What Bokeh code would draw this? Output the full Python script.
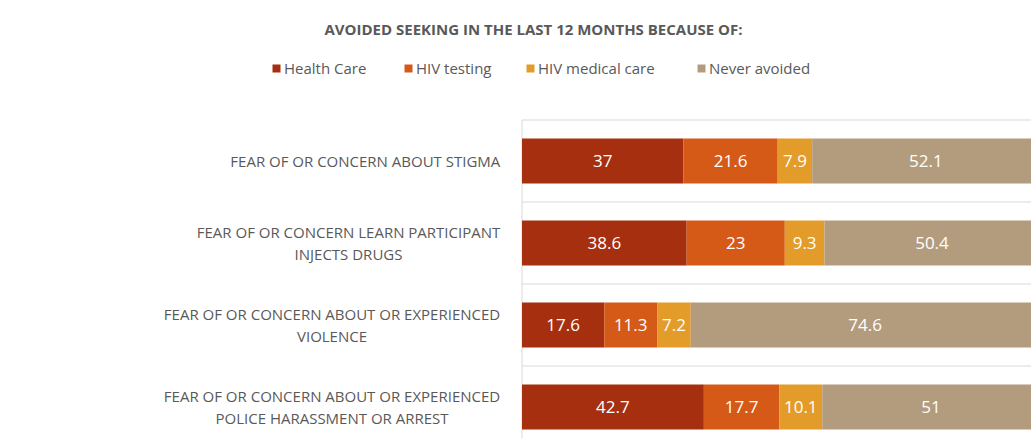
from bokeh.plotting import figure
from bokeh.models import ColumnDataSource, Label, Legend, LegendItem
from bokeh.core.properties import value
from bokeh.embed import file_html
from bokeh.resources import INLINE

categories = [
    "FEAR OF OR CONCERN ABOUT STIGMA",
    "FEAR OF OR CONCERN LEARN PARTICIPANT\nINJECTS DRUGS",
    "FEAR OF OR CONCERN ABOUT OR EXPERIENCED\nVIOLENCE",
    "FEAR OF OR CONCERN ABOUT OR EXPERIENCED\nPOLICE HARASSMENT OR ARREST",
]
health_care = [37, 38.6, 17.6, 42.7]
hiv_testing = [21.6, 23, 11.3, 17.7]
hiv_medical_care = [7.9, 9.3, 7.2, 10.1]
never_avoided = [52.1, 50.4, 74.6, 51]

series_names = ["Health Care", "HIV testing", "HIV medical care", "Never avoided"]
series_values = [health_care, hiv_testing, hiv_medical_care, never_avoided]
colors = ["#A62F0F", "#D65A17", "#E39B29", "#B39C7E"]
title_text = "AVOIDED SEEKING IN THE LAST 12 MONTHS BECAUSE OF:"

FONT = "Open Sans"
GREY = "#595959"
GRID = "#D9D9D9"
W, H = 1031, 438

# approximate Open Sans advance widths (units per em = 2048) for centring label lines
ADV = {" ": 532, "A": 1296, "B": 1327, "C": 1292, "D": 1493, "E": 1139, "F": 1057,
       "G": 1491, "H": 1511, "I": 571, "J": 547, "K": 1257, "L": 1083, "M": 1849,
       "N": 1544, "O": 1595, "P": 1233, "Q": 1595, "R": 1266, "S": 1124, "T": 1135,
       "U": 1493, "V": 1219, "W": 1896, "X": 1208, "Y": 1145, "Z": 1174}


def text_width(s, size):
    return sum(ADV.get(ch, 1200) for ch in s) / 2048 * size


ys = list(range(len(categories)))
totals = [sum(v[i] for v in series_values) for i in ys]
keys = ["s0", "s1", "s2", "s3"]
data = {"y": ys}
for k, vals in zip(keys, series_values):
    data[k] = [v / t * 100 for v, t in zip(vals, totals)]
source = ColumnDataSource(data)

# layout: plot area starts at x=521.5 px, 5.175 px per percent; rows 82 px apart, first centred at 160.5 px
PX_X, X0 = 5.175, 521.5
PX_Y, Y0 = 82.0, 160.5
x_range = (-X0 / PX_X, (W - X0) / PX_X)
y_range = ((H - Y0) / PX_Y, -Y0 / PX_Y)

p = figure(width=W, height=H, output_backend="svg", toolbar_location=None,
           x_range=x_range, y_range=y_range,
           min_border=0, min_border_left=0, min_border_right=0,
           min_border_top=0, min_border_bottom=0)
p.outline_line_color = None
p.axis.visible = False
p.grid.visible = False

# grid lines between categories and the vertical axis line
bounds = [y - 0.5 for y in ys] + [ys[-1] + 0.5]
p.segment(x0=[0] * len(bounds), x1=[200] * len(bounds), y0=bounds, y1=bounds,
          line_color=GRID, line_width=1)
p.segment(x0=[0], x1=[0], y0=[bounds[0]], y1=[ys[-1] + 2], line_color=GRID, line_width=1)

renderers = p.hbar_stack(keys, y="y", height=0.55, source=source, color=colors, line_width=0)

# value labels
lx, ly, lt = [], [], []
for i in ys:
    left = 0.0
    for k, vals in zip(keys, series_values):
        w = data[k][i]
        lx.append(left + w / 2)
        ly.append(i)
        lt.append(f"{vals[i]:g}")
        left += w
p.text(x=lx, y=ly, text=lt, text_align="center", text_baseline="middle",
       text_color="white", text_font=value(FONT), text_font_size="17px")

# category labels: right-aligned block, lines centred within it
LBL_SIZE = 15
offs = [-21.5 - max(text_width(line, LBL_SIZE) for line in c.split("\n")) / 2 for c in categories]
cat_src = ColumnDataSource(dict(x=[0] * len(ys), y=ys, text=categories, off=offs))
p.text(x="x", y="y", text="text", x_offset="off", source=cat_src,
       text_align="center", text_baseline="middle", text_line_height=1.13,
       text_color=GREY, text_font=value(FONT), text_font_size=f"{LBL_SIZE}px")

# legend: one entry per box, at the reference positions
legend_x = [271, 403, 525, 696]
for n, r, lxp in zip(series_names, renderers, legend_x):
    lg = Legend(items=[LegendItem(label=n, renderers=[r])],
                orientation="horizontal", location=(lxp, H - 78),
                padding=0, margin=0, spacing=0, label_standoff=3,
                glyph_width=10, glyph_height=10, label_height=20,
                label_text_font=FONT, label_text_font_size="15px", label_text_color=GREY,
                border_line_color=None, background_fill_alpha=0)
    p.add_layout(lg, "center")

p.add_layout(Label(x=533, y=H - 28, x_units="screen", y_units="screen", text=title_text,
                   text_align="center", text_baseline="middle", text_font=FONT,
                   text_font_size="15px", text_font_style="bold", text_color=GREY))

open("out.html", "w").write(file_html(p, INLINE))
